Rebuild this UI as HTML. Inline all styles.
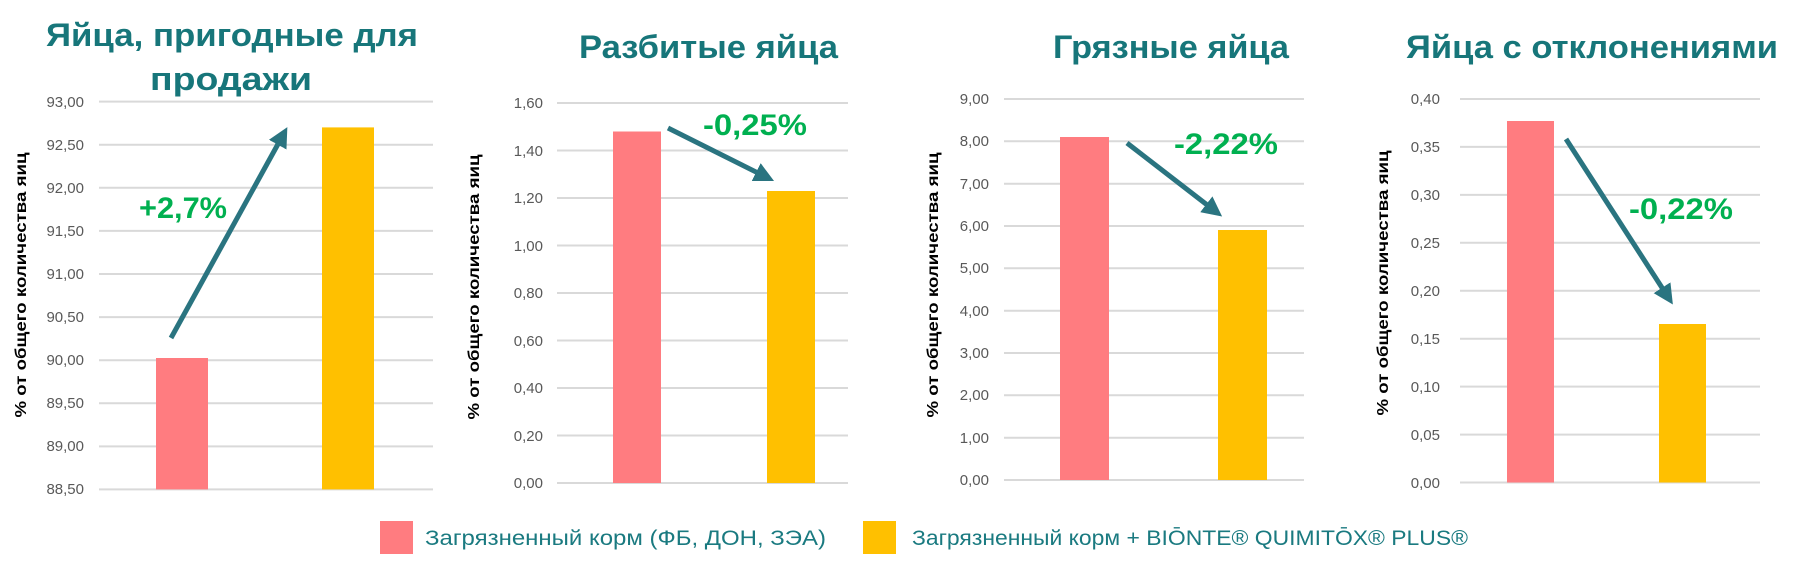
<!DOCTYPE html>
<html><head><meta charset="utf-8"><style>
html,body{margin:0;padding:0;background:#fff}
svg{display:block}
.t{font-family:"Liberation Sans","Noto Sans CJK SC",sans-serif;font-weight:bold;fill:#17767A;font-size:32px}
.p{font-family:"Liberation Sans",sans-serif;font-weight:bold;fill:#00B050;font-size:30px}
.k{font-family:"Liberation Sans",sans-serif;fill:#595959;font-size:15px;text-anchor:end}
.y{font-family:"Liberation Sans",sans-serif;font-weight:bold;fill:#000;font-size:16px;text-anchor:middle}
.l{font-family:"Liberation Sans",sans-serif;fill:#1a7a80;font-size:21px}
.g{stroke:#d9d9d9;stroke-width:2}
</style></head><body>
<svg width="1810" height="566" viewBox="0 0 1810 566" xmlns="http://www.w3.org/2000/svg">
<defs><marker id="ah" markerWidth="4" markerHeight="4" refX="2.2" refY="2" orient="auto" markerUnits="strokeWidth"><path d="M0,0 L4,2 L0,4 z" fill="#2A7480"/></marker></defs>

<!-- Chart 1 -->
<text class="t" x="46" y="46" textLength="372" lengthAdjust="spacingAndGlyphs">Яйца, пригодные для</text>
<text class="t" x="150" y="90" textLength="162" lengthAdjust="spacingAndGlyphs">продажи</text>
<g class="g">
<line x1="99" x2="433" y1="101.6" y2="101.6"/><line x1="99" x2="433" y1="144.7" y2="144.7"/><line x1="99" x2="433" y1="187.8" y2="187.8"/><line x1="99" x2="433" y1="230.9" y2="230.9"/><line x1="99" x2="433" y1="274" y2="274"/><line x1="99" x2="433" y1="317.1" y2="317.1"/><line x1="99" x2="433" y1="360.2" y2="360.2"/><line x1="99" x2="433" y1="403.3" y2="403.3"/><line x1="99" x2="433" y1="446.4" y2="446.4"/><line x1="99" x2="433" y1="489.4" y2="489.4"/>
</g>
<g class="k">
<text x="84" y="107">93,00</text><text x="84" y="150">92,50</text><text x="84" y="193">92,00</text><text x="84" y="236">91,50</text><text x="84" y="279">91,00</text><text x="84" y="322">90,50</text><text x="84" y="365">90,00</text><text x="84" y="408">89,50</text><text x="84" y="451">89,00</text><text x="84" y="494">88,50</text>
</g>
<rect x="156" y="358" width="52" height="131.4" fill="#FF7C80"/>
<rect x="322" y="127.4" width="52" height="362" fill="#FFC000"/>
<text class="y" transform="translate(26,285) rotate(-90)" textLength="265" lengthAdjust="spacingAndGlyphs">% от общего количества яиц</text>
<line x1="171" y1="338" x2="283" y2="135" stroke="#2A7480" stroke-width="5" marker-end="url(#ah)"/>
<text class="p" x="139" y="218" textLength="88" lengthAdjust="spacingAndGlyphs">+2,7%</text>

<!-- Chart 2 -->
<text class="t" x="579" y="58" textLength="259" lengthAdjust="spacingAndGlyphs">Разбитые яйца</text>
<g class="g">
<line x1="557" x2="848" y1="103" y2="103"/><line x1="557" x2="848" y1="150.5" y2="150.5"/><line x1="557" x2="848" y1="198" y2="198"/><line x1="557" x2="848" y1="245.5" y2="245.5"/><line x1="557" x2="848" y1="293" y2="293"/><line x1="557" x2="848" y1="340.5" y2="340.5"/><line x1="557" x2="848" y1="388" y2="388"/><line x1="557" x2="848" y1="435.5" y2="435.5"/><line x1="557" x2="848" y1="483" y2="483"/>
</g>
<g class="k">
<text x="543" y="108">1,60</text><text x="543" y="156">1,40</text><text x="543" y="203">1,20</text><text x="543" y="251">1,00</text><text x="543" y="298">0,80</text><text x="543" y="346">0,60</text><text x="543" y="393">0,40</text><text x="543" y="441">0,20</text><text x="543" y="488">0,00</text>
</g>
<rect x="613" y="131.5" width="48" height="351.5" fill="#FF7C80"/>
<rect x="767" y="191" width="48" height="292" fill="#FFC000"/>
<text class="y" transform="translate(479,287) rotate(-90)" textLength="265" lengthAdjust="spacingAndGlyphs">% от общего количества яиц</text>
<line x1="668" y1="128" x2="766" y2="177" stroke="#2A7480" stroke-width="5" marker-end="url(#ah)"/>
<text class="p" x="703" y="135" textLength="104" lengthAdjust="spacingAndGlyphs">-0,25%</text>

<!-- Chart 3 -->
<text class="t" x="1053" y="58" textLength="236" lengthAdjust="spacingAndGlyphs">Грязные яйца</text>
<g class="g">
<line x1="1004" x2="1304" y1="99" y2="99"/><line x1="1004" x2="1304" y1="141.3" y2="141.3"/><line x1="1004" x2="1304" y1="183.7" y2="183.7"/><line x1="1004" x2="1304" y1="226" y2="226"/><line x1="1004" x2="1304" y1="268.3" y2="268.3"/><line x1="1004" x2="1304" y1="310.7" y2="310.7"/><line x1="1004" x2="1304" y1="353" y2="353"/><line x1="1004" x2="1304" y1="395.3" y2="395.3"/><line x1="1004" x2="1304" y1="437.7" y2="437.7"/><line x1="1004" x2="1304" y1="480" y2="480"/>
</g>
<g class="k">
<text x="989" y="104">9,00</text><text x="989" y="146">8,00</text><text x="989" y="189">7,00</text><text x="989" y="231">6,00</text><text x="989" y="273">5,00</text><text x="989" y="316">4,00</text><text x="989" y="358">3,00</text><text x="989" y="400">2,00</text><text x="989" y="443">1,00</text><text x="989" y="485">0,00</text>
</g>
<rect x="1060" y="137" width="49" height="343" fill="#FF7C80"/>
<rect x="1218" y="230" width="49" height="250" fill="#FFC000"/>
<text class="y" transform="translate(938,285) rotate(-90)" textLength="265" lengthAdjust="spacingAndGlyphs">% от общего количества яиц</text>
<line x1="1127" y1="143" x2="1215" y2="211" stroke="#2A7480" stroke-width="5" marker-end="url(#ah)"/>
<text class="p" x="1174" y="154" textLength="104" lengthAdjust="spacingAndGlyphs">-2,22%</text>

<!-- Chart 4 -->
<text class="t" x="1406" y="58" textLength="372" lengthAdjust="spacingAndGlyphs">Яйца с отклонениями</text>
<g class="g">
<line x1="1460" x2="1760" y1="99" y2="99"/><line x1="1460" x2="1760" y1="146.9" y2="146.9"/><line x1="1460" x2="1760" y1="194.9" y2="194.9"/><line x1="1460" x2="1760" y1="242.8" y2="242.8"/><line x1="1460" x2="1760" y1="290.8" y2="290.8"/><line x1="1460" x2="1760" y1="338.7" y2="338.7"/><line x1="1460" x2="1760" y1="386.6" y2="386.6"/><line x1="1460" x2="1760" y1="434.6" y2="434.6"/><line x1="1460" x2="1760" y1="482.5" y2="482.5"/>
</g>
<g class="k">
<text x="1440" y="104">0,40</text><text x="1440" y="152">0,35</text><text x="1440" y="200">0,30</text><text x="1440" y="248">0,25</text><text x="1440" y="296">0,20</text><text x="1440" y="344">0,15</text><text x="1440" y="392">0,10</text><text x="1440" y="440">0,05</text><text x="1440" y="488">0,00</text>
</g>
<rect x="1507" y="121" width="47" height="361.5" fill="#FF7C80"/>
<rect x="1659" y="324" width="47" height="158.5" fill="#FFC000"/>
<text class="y" transform="translate(1388,283) rotate(-90)" textLength="265" lengthAdjust="spacingAndGlyphs">% от общего количества яиц</text>
<line x1="1566" y1="139" x2="1668" y2="297" stroke="#2A7480" stroke-width="5" marker-end="url(#ah)"/>
<text class="p" x="1629" y="219" textLength="104" lengthAdjust="spacingAndGlyphs">-0,22%</text>

<!-- Legend -->
<rect x="380" y="521" width="33" height="33" fill="#FF7C80"/>
<text class="l" x="425" y="545" textLength="401" lengthAdjust="spacingAndGlyphs">Загрязненный корм (ФБ, ДОН, ЗЭА)</text>
<rect x="863" y="521" width="33" height="33" fill="#FFC000"/>
<text class="l" x="912" y="545" textLength="556" lengthAdjust="spacingAndGlyphs">Загрязненный корм + BIŌNTE® QUIMITŌX® PLUS®</text>
</svg>
</body></html>
